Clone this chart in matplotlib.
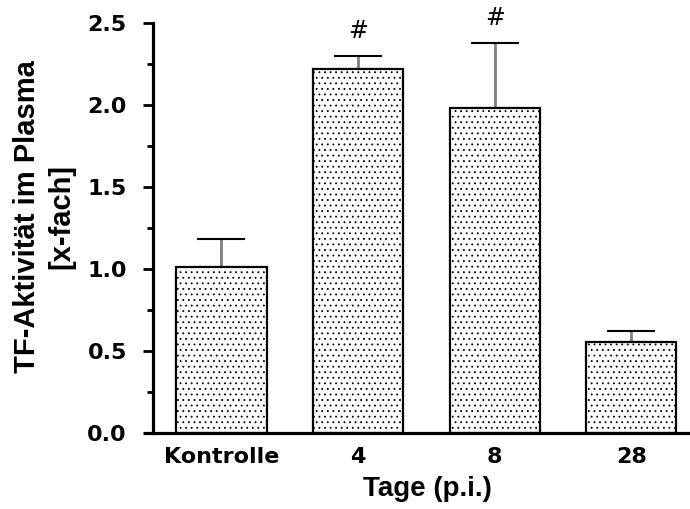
import matplotlib
matplotlib.use("Agg")
import matplotlib.pyplot as plt
import numpy as np

categories = ["Kontrolle", "4", "8", "28"]
values = [1.01, 2.22, 1.98, 0.555]
errors_up = [0.17, 0.08, 0.40, 0.065]
marks = ["", "#", "#", ""]

plt.rcParams['hatch.linewidth'] = 0.6
plt.rcParams['hatch.color'] = '#333333'

fig = plt.figure(figsize=(6.9, 5.09), dpi=100)
ax = fig.add_axes([0.2101, 0.1493, 0.7899, 0.8055])

x = np.arange(len(categories))
ax.bar(x, values, width=0.66, color='white', edgecolor='black',
       linewidth=1.6, hatch='...', zorder=2)

eb = ax.errorbar(x, values, yerr=[np.zeros(len(values)), errors_up], fmt='none',
                 ecolor='#808080', elinewidth=2.0, capsize=17, capthick=1.5, zorder=1)
for cl in eb[1]:
    cl.set_color('black')
    cl.set_markeredgecolor('black')
    cl.set_markerfacecolor('black')

for xi, v, e, m in zip(x, values, errors_up, marks):
    if m:
        ax.annotate(m, (xi, v + e), xytext=(0, 9), textcoords='offset points',
                    ha='center', va='bottom', fontsize=17, family='DejaVu Sans')

ax.set_xlim(-0.56, 3.43)
ax.set_ylim(0, 2.5)

ax.spines['top'].set_visible(False)
ax.spines['right'].set_visible(False)
ax.spines['left'].set_position(('data', -0.5))
ax.spines['left'].set_linewidth(2.3)
ax.spines['bottom'].set_linewidth(2.3)
for s in ax.spines.values():
    s.set_capstyle('projecting')

ax.set_yticks(np.arange(0, 2.51, 0.5))
ax.set_yticklabels([f"{v:.1f}" for v in np.arange(0, 2.51, 0.5)])
ax.set_yticks(np.arange(0.25, 2.5, 0.5), minor=True)
ax.tick_params(axis='y', which='major', length=7, width=2.0, pad=12,
               labelsize=16)
ax.tick_params(axis='y', which='minor', length=4, width=2.0)
for lab in ax.get_yticklabels():
    lab.set_fontweight('bold')
    lab.set_family('DejaVu Sans')

ax.set_xticks(x)
ax.set_xticklabels(categories, fontsize=16, fontweight='bold', family='DejaVu Sans')
ax.tick_params(axis='x', length=0, pad=10)

ax.set_xlabel("Tage (p.i.)", fontsize=20, fontweight='bold', family='Liberation Sans')
ax.xaxis.set_label_coords(0.519, -0.105)

ax.set_ylabel("TF-Aktivität im Plasma\n[x-fach]", fontsize=21, fontweight='bold',
              family='Liberation Sans', linespacing=1.25)
ax.yaxis.label.set_va('center')
ax.yaxis.set_label_coords(-0.185, 0.527)

fig.savefig("out.png", dpi=100)
